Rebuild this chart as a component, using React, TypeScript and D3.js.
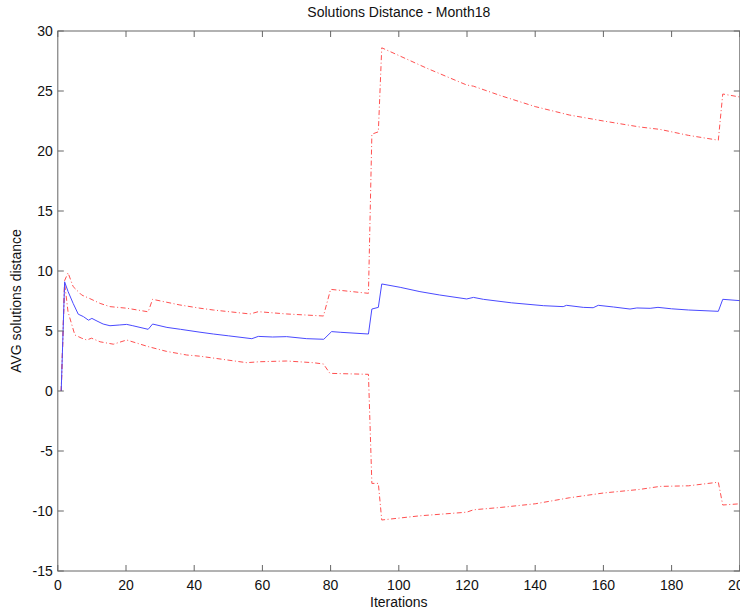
import React from "react";
import * as d3 from "d3";

const meanX = [1, 2, 3, 4.5, 6, 7.5, 9, 10, 11.5, 13.3, 15.3, 18, 20.2, 22, 26.5, 27.8, 32, 36, 41.7, 45.6, 50, 56.9, 58.8, 63, 67.1, 73, 78, 80.3, 83, 91.1, 92.1, 94, 95, 100.4, 106.2, 112, 119.9, 121.9, 124.8, 133, 142.4, 148.2, 149.2, 154.1, 157, 158.5, 163, 167.8, 169.8, 173.7, 176, 180, 185, 193.7, 195, 200];
const meanY = [0, 9.1, 8.3, 7.3, 6.4, 6.2, 5.9, 6.05, 5.83, 5.58, 5.44, 5.5, 5.55, 5.44, 5.14, 5.58, 5.3, 5.14, 4.9, 4.75, 4.6, 4.36, 4.55, 4.5, 4.53, 4.36, 4.31, 4.95, 4.89, 4.75, 6.83, 6.97, 8.92, 8.64, 8.28, 8.0, 7.67, 7.8, 7.64, 7.35, 7.11, 7.03, 7.14, 6.97, 6.94, 7.14, 7.0, 6.83, 6.92, 6.89, 6.97, 6.85, 6.75, 6.64, 7.64, 7.53];

const upperX = [1, 2, 3, 4.5, 7, 9.4, 12.4, 15.3, 20.2, 26.5, 27.8, 35.8, 41.7, 45.6, 56.4, 58.8, 67.1, 77.9, 80, 91.1, 92.1, 94, 95, 98.9, 108.2, 119.9, 121.9, 130, 140, 150, 160, 170.7, 176.6, 185, 193.7, 195, 200];
const upperY = [0, 9.2, 9.85, 8.7, 8.0, 7.7, 7.3, 7.03, 6.9, 6.6, 7.64, 7.17, 6.9, 6.75, 6.42, 6.61, 6.42, 6.25, 8.47, 8.14, 21.4, 21.6, 28.6, 28.1, 26.9, 25.5, 25.4, 24.6, 23.7, 23.0, 22.5, 22.0, 21.8, 21.3, 20.9, 24.75, 24.5];

const lowerX = [1, 2, 3, 5, 7, 8.5, 9.9, 12.4, 16.3, 20.2, 26.5, 31.9, 37.8, 41.7, 55.4, 59.3, 67.1, 74.9, 77.9, 79.8, 91.1, 92.1, 94, 95, 106.2, 119.9, 121.9, 130, 140, 150, 160, 170.7, 176.6, 185, 193.7, 195, 200];
const lowerY = [0, 9.0, 6.6, 4.67, 4.4, 4.25, 4.4, 4.1, 3.9, 4.25, 3.7, 3.3, 3.0, 2.9, 2.36, 2.44, 2.5, 2.36, 2.25, 1.47, 1.39, -7.7, -7.7, -10.75, -10.4, -10.1, -9.9, -9.7, -9.4, -8.9, -8.5, -8.2, -7.95, -7.9, -7.6, -9.5, -9.4];

const xTicks = [0, 20, 40, 60, 80, 100, 120, 140, 160, 180, 200];
const yTicks = [-15, -10, -5, 0, 5, 10, 15, 20, 25, 30];

const titleText = "Solutions Distance - Month18";
const xLabelText = "Iterations";
const yLabelText = "AVG solutions distance";

const W = 740, H = 614;
const left = 57.8, right = 739.8, top = 31, bottom = 571;
const font = "'Liberation Sans', Arial, Helvetica, sans-serif";

export default function App() {
  const x = d3.scaleLinear().domain([0, 200]).range([left, right]);
  const y = d3.scaleLinear().domain([-15, 30]).range([bottom, top]);
  const line = d3.line<[number, number]>().x(d => x(d[0])).y(d => y(d[1]));
  const zip = (a: number[], b: number[]) => a.map((v, i) => [v, b[i]] as [number, number]);
  const axisColor = "#666";
  const tl = 6;
  return (
    <svg width={W} height={H} style={{ position: "absolute", left: 0, top: 0, background: "#fff" }} fontFamily={font}>
      <rect x={0} y={0} width={W} height={H} fill="#fff" />
      <path d={line(zip(upperX, upperY)) || ""} fill="none" stroke="#ff5050" strokeWidth={1} strokeDasharray="5,2.5,1,2.5" />
      <path d={line(zip(lowerX, lowerY)) || ""} fill="none" stroke="#ff5050" strokeWidth={1} strokeDasharray="5,2.5,1,2.5" />
      <path d={line(zip(meanX, meanY)) || ""} fill="none" stroke="#4a4aff" strokeWidth={1} />
      <rect x={left} y={top} width={right - left} height={bottom - top} fill="none" stroke={axisColor} strokeWidth={1} />
      {xTicks.map(t => (
        <g key={"x" + t}>
          <line x1={x(t)} x2={x(t)} y1={bottom} y2={bottom - tl} stroke={axisColor} />
          <line x1={x(t)} x2={x(t)} y1={top} y2={top + tl} stroke={axisColor} />
          <text x={x(t)} y={bottom + 19} fontSize={14} textAnchor="middle" fill="#111">{t}</text>
        </g>
      ))}
      {yTicks.map(t => (
        <g key={"y" + t}>
          <line x1={left} x2={left + tl} y1={y(t)} y2={y(t)} stroke={axisColor} />
          <line x1={right} x2={right - tl} y1={y(t)} y2={y(t)} stroke={axisColor} />
          <text x={left - 5} y={y(t) + 5} fontSize={14} textAnchor="end" fill="#111">{t}</text>
        </g>
      ))}
      <text x={(left + right) / 2} y={17} fontSize={14} textAnchor="middle" fill="#111">{titleText}</text>
      <text x={(left + right) / 2} y={607} fontSize={14} textAnchor="middle" fill="#111">{xLabelText}</text>
      <text transform={`translate(21,${(top + bottom) / 2}) rotate(-90)`} fontSize={14} textAnchor="middle" fill="#111">{yLabelText}</text>
    </svg>
  );
}
